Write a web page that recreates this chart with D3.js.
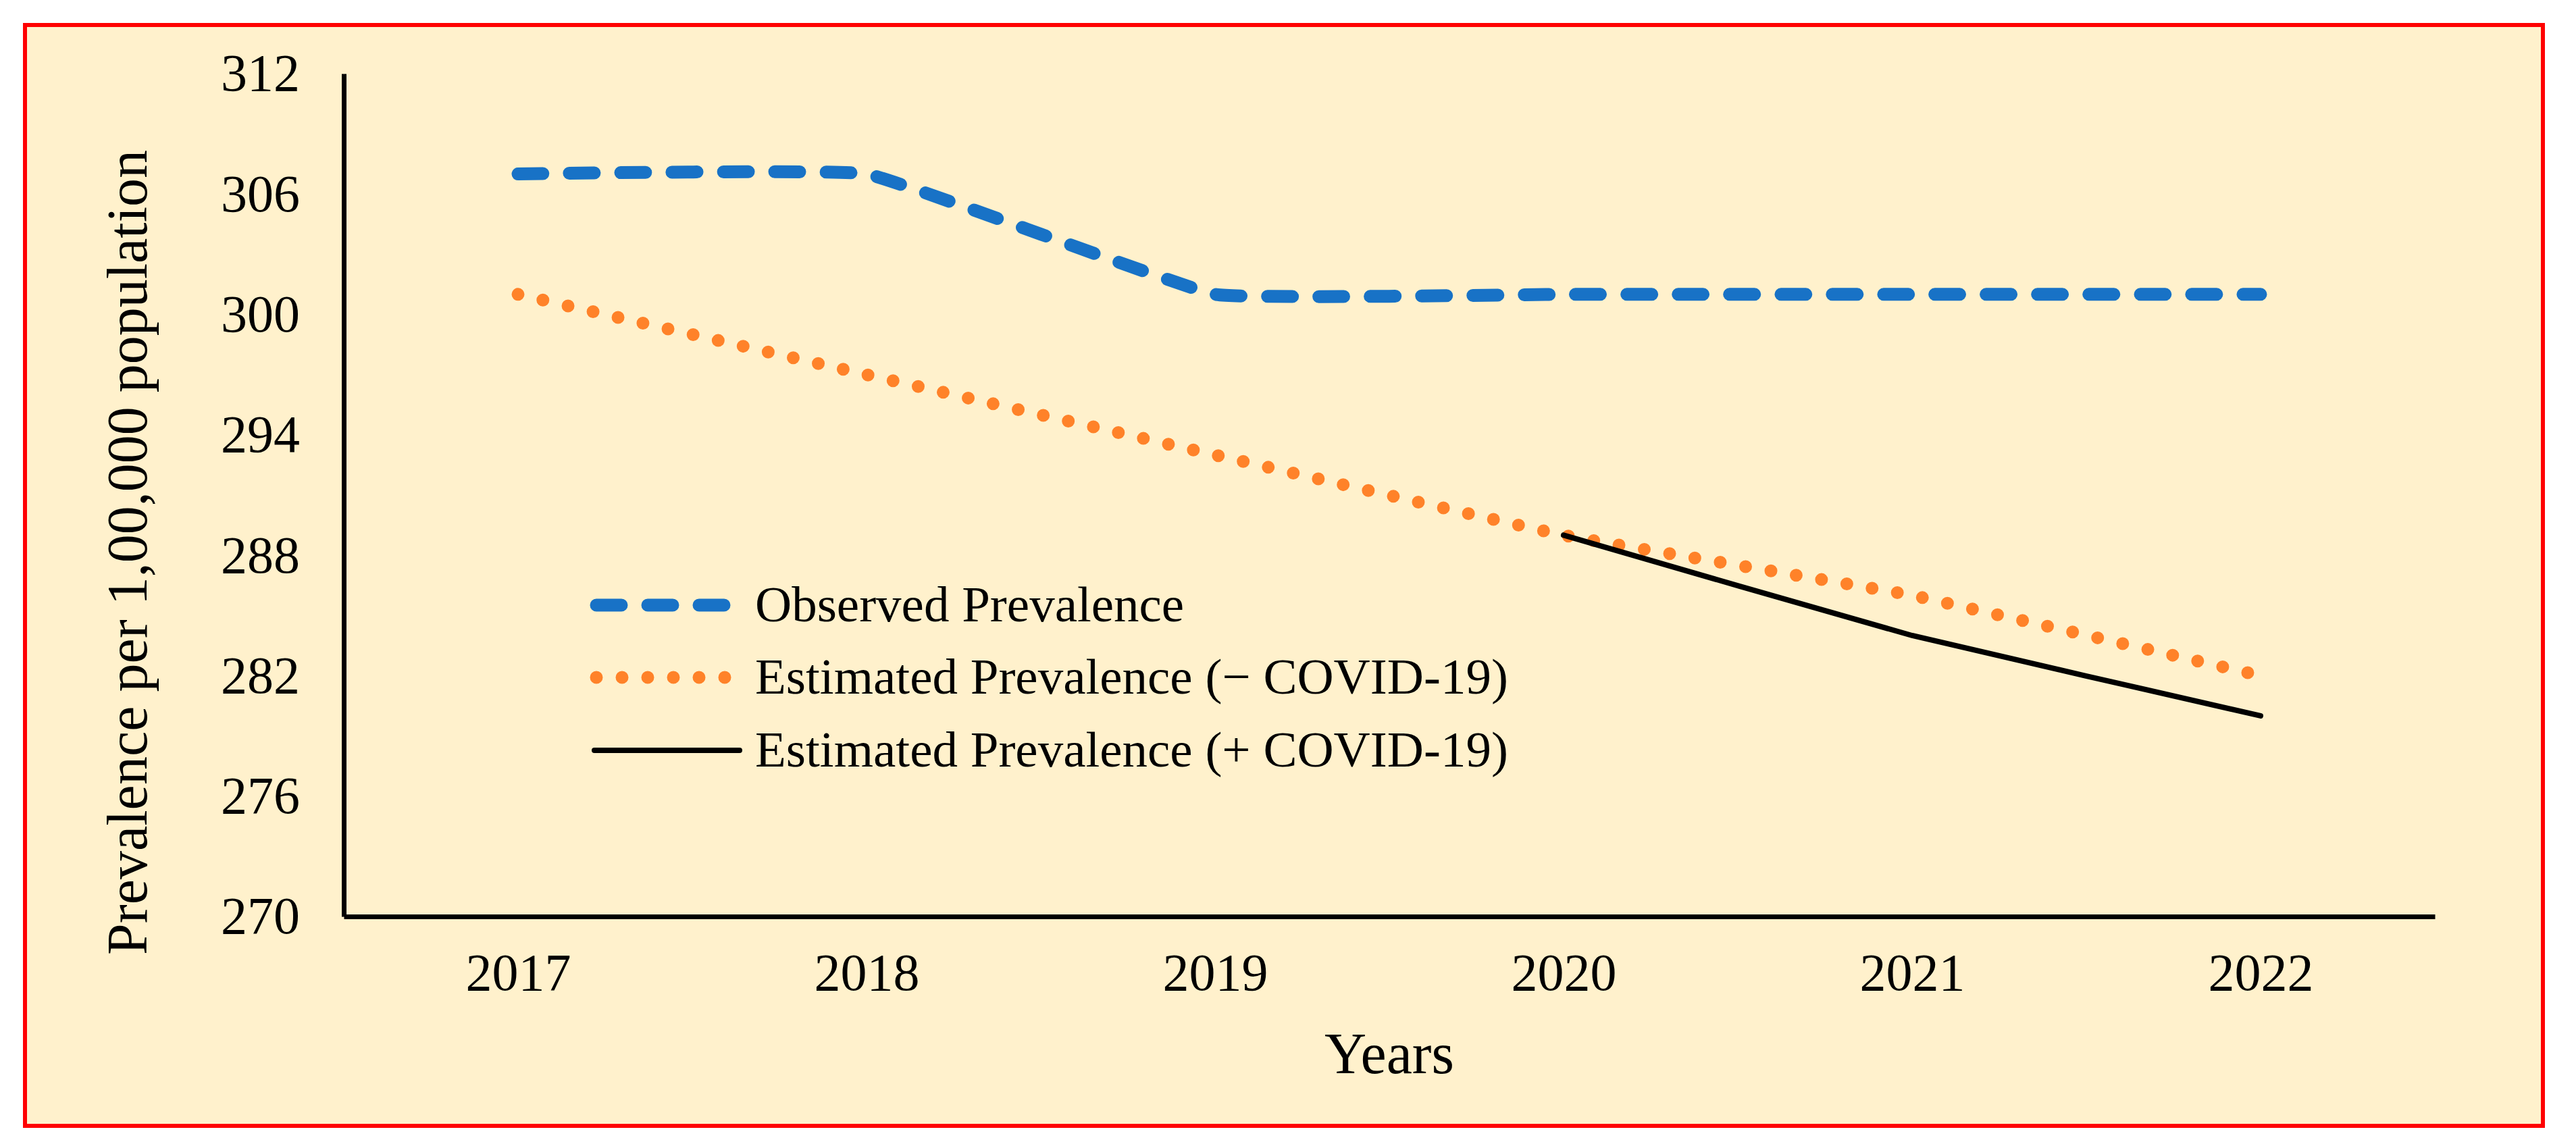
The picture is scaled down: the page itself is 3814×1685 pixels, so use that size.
<!DOCTYPE html>
<html>
<head>
<meta charset="utf-8">
<script src="https://cdn.jsdelivr.net/npm/d3@7"></script>
<style>
  body { margin: 0; background: #ffffff; }
  text { font-family: "Liberation Serif", "Times New Roman", serif; fill: #000; }
</style>
</head>
<body>
<div id="chart"></div>
<script>
const width = 3814
const height = 1685
const margin = { top: 109, bottom: 328, right: 209, left: 509 }

const years = [2017, 2018, 2019, 2020, 2021, 2022]
const observed = [307, 307, 301, 301, 301, 301]
const estimatedNoCovid = [301, 297, 293, 289, 286, 282]
const estimatedCovid = [null, null, null, 289, 284, 280]
const yTicks = [270, 276, 282, 288, 294, 300, 306, 312]

const seriesNames = [
    "Observed Prevalence",
    "Estimated Prevalence (\u2212 COVID-19)",
    "Estimated Prevalence (+ COVID-19)"
]

const svg = d3.select("div#chart").append("svg").attr("width", width).attr("height", height)

// frame
svg.append("rect")
    .attr("x", 37).attr("y", 37)
    .attr("width", 3765 - 37).attr("height", 1667 - 37)
    .attr("fill", "#fff1cc")
    .attr("stroke", "#ff0000")
    .attr("stroke-width", 6)

const x = d3.scalePoint().domain(years)
    .range([margin.left, width - margin.right]).padding(0.5)
const y = d3.scaleLinear().domain([270, 312])
    .range([height - margin.bottom, margin.top])

const xAxis = d3.axisBottom(x).tickSize(0).tickSizeOuter(0).tickPadding(54)
const yAxis = d3.axisLeft(y).tickValues(yTicks).tickSize(0).tickSizeOuter(0).tickPadding(65)

const xAxisGroup = svg.append("g").attr("class", "xAxisGroup")
    .attr("transform", `translate(0, ${height - margin.bottom})`)
    .call(xAxis)
const yAxisGroup = svg.append("g").attr("class", "yAxisGroup")
    .attr("transform", `translate(${margin.left}, 0)`)
    .call(yAxis)

svg.selectAll(".domain").attr("stroke", "#000").attr("stroke-width", 7)
svg.selectAll(".tick text")
    .style("font-family", "'Liberation Serif', 'Times New Roman', serif")
    .style("font-size", "78px")
    .attr("fill", "#000")

// axis titles
svg.append("text")
    .attr("x", (margin.left + width - margin.right) / 2)
    .attr("y", 1589)
    .attr("text-anchor", "middle")
    .style("font-size", "86px")
    .text("Years")

svg.append("text")
    .attr("transform", `translate(217, 818) rotate(-90)`)
    .attr("text-anchor", "middle")
    .style("font-size", "84px")
    .text("Prevalence per 1,00,000 population")

const styles = [
    { color: "#1872c6", width: 19, dash: "37 39", values: observed },
    { color: "#ff8229", width: 19, dash: "0 38", values: estimatedNoCovid },
    { color: "#000000", width: 8, dash: null, values: estimatedCovid }
]

const line = d3.line()
    .defined(d => d != null)
    .x((d, i) => x(years[i]))
    .y(d => y(d))
    .curve(d3.curveCardinal.tension(0.75))

const elementGroup = svg.append("g").attr("class", "elementGroup")

elementGroup.selectAll("path").data(styles).enter()
    .append("path")
    .attr("d", d => line(d.values))
    .attr("fill", "none")
    .attr("stroke", d => d.color)
    .attr("stroke-width", d => d.width)
    .attr("stroke-linecap", "round")
    .attr("stroke-dasharray", d => d.dash)

// legend
const legend = svg.append("g").attr("class", "legend")
const rowY = [896, 1003, 1111]
const legendRow = legend.selectAll("g").data(styles).enter()
    .append("g")
    .attr("transform", (d, i) => `translate(0, ${rowY[i]})`)

legendRow.append("line")
    .attr("x1", (d, i) => i === 2 ? 880 : 883)
    .attr("x2", (d, i) => i === 2 ? 1095 : (i === 0 ? 1080 : 1075))
    .attr("y1", 0).attr("y2", 0)
    .attr("stroke", d => d.color)
    .attr("stroke-width", d => d.width)
    .attr("stroke-linecap", "round")
    .attr("stroke-dasharray", d => d.dash)

legendRow.append("text")
    .attr("x", 1118)
    .attr("y", 0)
    .attr("dy", "0.32em")
    .style("font-size", "75px")
    .text((d, i) => seriesNames[i])
</script>
</body>
</html>
